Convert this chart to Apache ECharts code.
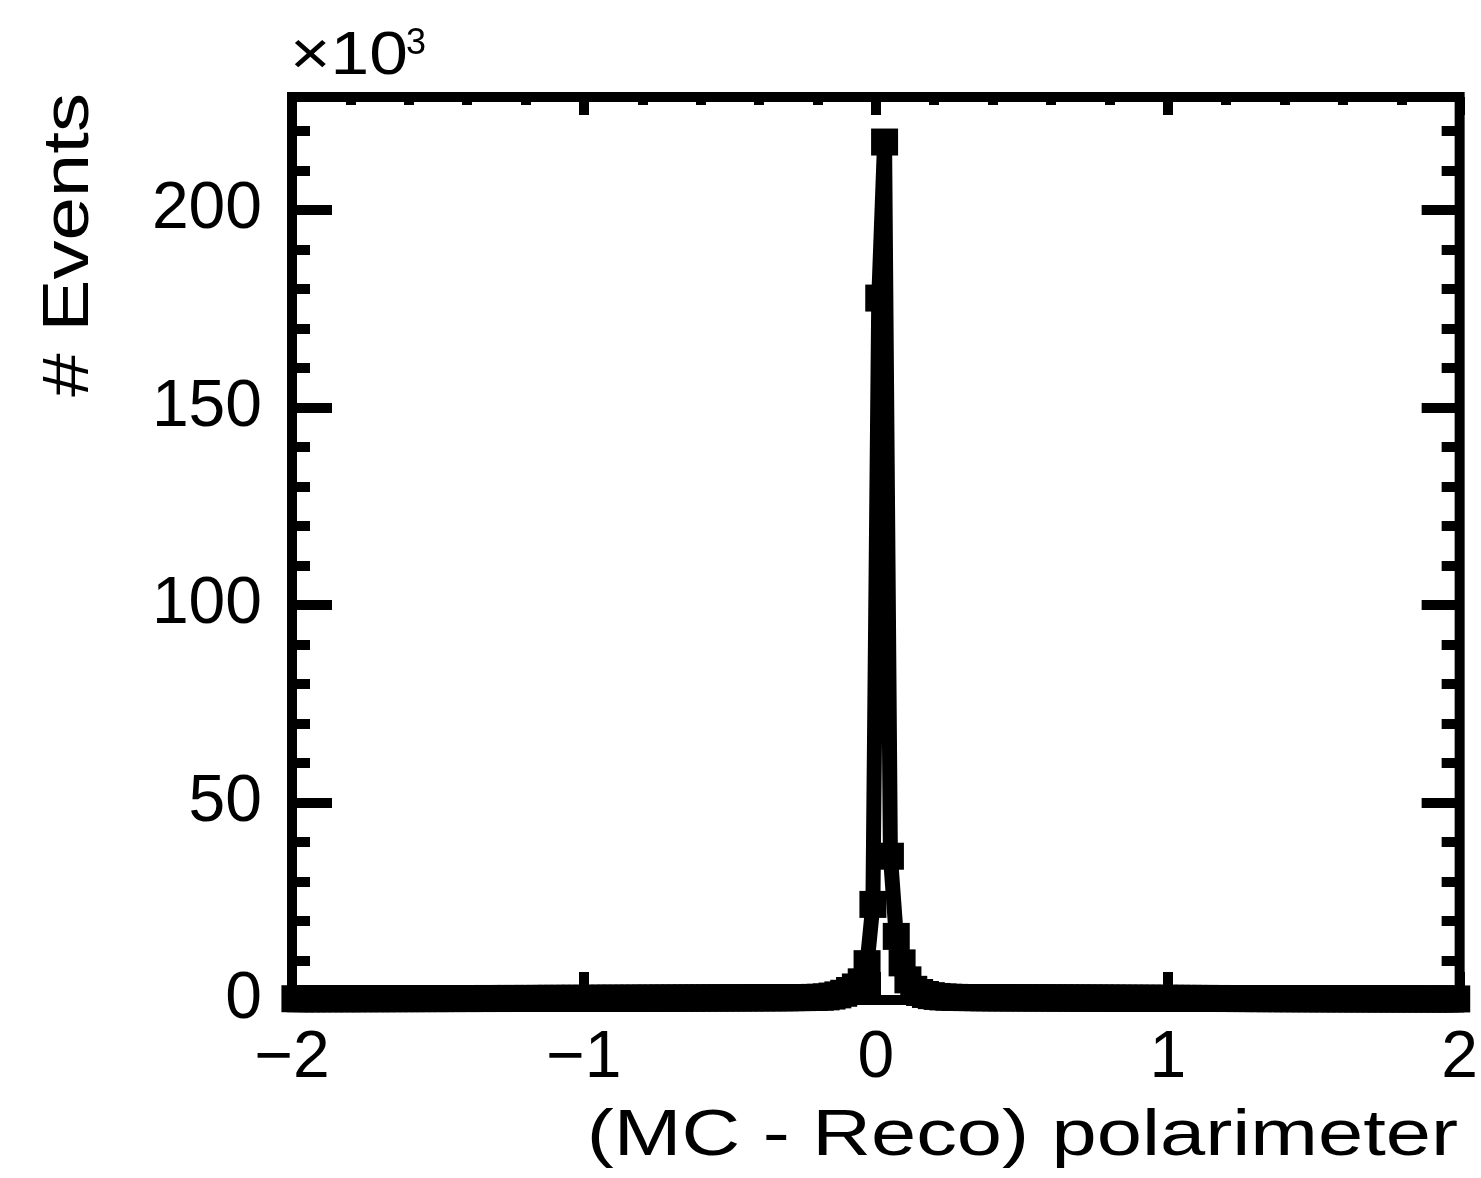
<!DOCTYPE html>
<html lang="en">
<head>
    <meta charset="utf-8">
    <title>(MC - Reco) polarimeter</title>
    <script src="https://cdn.jsdelivr.net/npm/echarts@6/dist/echarts.min.js"></script>
    <style>
        html, body { margin: 0; padding: 0; background: #fff; }
        #main { width: 1481px; height: 1178px; }
    </style>
</head>
<body>
<div id="main"></div>
<script type="text/javascript">
    // histogram binning: 200 bins on [-2, 2]
    var binLow = -2;
    var binWidth = 0.02;

    // counts (x10^3) per bin
    // bins -1.99 ... -0.21
    var leftTail = [
        0.32, 0.31, 0.33, 0.32, 0.31, 0.33, 0.32, 0.34, 0.33, 0.32,
        0.33, 0.34, 0.33, 0.35, 0.34, 0.33, 0.35, 0.34, 0.36, 0.35,
        0.34, 0.36, 0.35, 0.37, 0.36, 0.35, 0.37, 0.36, 0.38, 0.37,
        0.36, 0.38, 0.37, 0.39, 0.38, 0.37, 0.39, 0.40, 0.39, 0.38,
        0.40, 0.39, 0.41, 0.40, 0.42, 0.41, 0.40, 0.42, 0.43, 0.42,
        0.41, 0.43, 0.44, 0.43, 0.45, 0.44, 0.43, 0.45, 0.46, 0.45,
        0.46, 0.47, 0.46, 0.48, 0.47, 0.49, 0.48, 0.50, 0.49, 0.51,
        0.50, 0.52, 0.51, 0.53, 0.52, 0.54, 0.53, 0.55, 0.54, 0.56,
        0.55, 0.57, 0.56, 0.58, 0.57, 0.59, 0.60, 0.61, 0.63, 0.66
    ];
    // bins -0.19 ... 0.21
    var peakBins = [
        0.7, 0.8, 1.0, 1.3, 1.7, 2.4, 3.3, 4.6, 9.2, 24.2,
        177.7, 217.2, 36.4, 16.1, 9.4, 5.1, 2.7, 1.9, 1.4, 1.1,
        0.9
    ];
    // bins 0.23 ... 1.99
    var rightTail = [
        0.78, 0.70, 0.66, 0.63, 0.61, 0.60, 0.59, 0.57, 0.58, 0.56,
        0.55, 0.56, 0.54, 0.55, 0.53, 0.54, 0.52, 0.53, 0.51, 0.52,
        0.50, 0.51, 0.49, 0.50, 0.48, 0.49, 0.47, 0.48, 0.46, 0.47,
        0.45, 0.46, 0.44, 0.45, 0.43, 0.44, 0.43, 0.42, 0.43, 0.41,
        0.42, 0.40, 0.41, 0.40, 0.39, 0.40, 0.38, 0.39, 0.38, 0.37,
        0.38, 0.36, 0.37, 0.36, 0.35, 0.36, 0.34, 0.35, 0.34, 0.33,
        0.34, 0.33, 0.32, 0.33, 0.32, 0.31, 0.32, 0.31, 0.30, 0.31,
        0.30, 0.29, 0.30, 0.29, 0.30, 0.28, 0.29, 0.28, 0.29, 0.28,
        0.27, 0.28, 0.27, 0.28, 0.27, 0.26, 0.27, 0.26, 0.27
    ];

    var xTicks = [-2, -1, 0, 1, 2];
    var yTicks = [0, 50, 100, 150, 200];
    var xTitle = '(MC - Reco) polarimeter';
    var yTitle = '# Events';

    var counts = leftTail.concat(peakBins, rightTail);
    var histData = counts.map(function (v, i) {
        return [binLow + (i + 0.5) * binWidth, v];
    });

    var font = '"Liberation Sans", Helvetica, Arial, sans-serif';
    var black = '#000';

    function fmtX(v) {
        if (xTicks.indexOf(v) < 0) return '';
        return v < 0 ? '\u2212' + Math.abs(v) : String(v);
    }
    function fmtY(v) {
        return yTicks.indexOf(v) < 0 ? '' : String(v);
    }

    var tickStyle = {color: black, width: 10};

    var chart = echarts.init(document.getElementById('main'), null, {renderer: 'canvas'});
    var option = {
        animation: false,
        backgroundColor: '#fff',
        grid: {
            left: 292, right: 19, top: 97, bottom: 178,
            show: true, borderWidth: 10, borderColor: black, backgroundColor: 'transparent'
        },
        xAxis: [{
            type: 'value', min: -2, max: 2, interval: 1, position: 'bottom',
            axisLine: {show: false, onZero: false},
            splitLine: {show: false},
            axisTick: {inside: true, length: 28, lineStyle: tickStyle},
            minorTick: {show: true, splitNumber: 5, length: 10, lineStyle: tickStyle},
            axisLabel: {
                formatter: fmtX, color: black, fontFamily: font, fontSize: 66, margin: 26
            }
        }, {
            type: 'value', min: -2, max: 2, interval: 1, position: 'top',
            axisLine: {show: false, onZero: false},
            splitLine: {show: false},
            axisTick: {inside: true, length: 18, lineStyle: tickStyle},
            minorTick: {show: true, splitNumber: 5, length: 8, lineStyle: tickStyle},
            axisLabel: {show: false}
        }],
        yAxis: [{
            type: 'value', min: 0, max: 228.6, interval: 50, position: 'left',
            axisLine: {show: false, onZero: false},
            splitLine: {show: false},
            axisTick: {inside: true, length: 40, lineStyle: tickStyle},
            minorTick: {show: true, splitNumber: 5, length: 18, lineStyle: tickStyle},
            axisLabel: {
                formatter: fmtY, showMaxLabel: false, color: black,
                fontFamily: font, fontSize: 66, margin: 30
            }
        }, {
            type: 'value', min: 0, max: 228.6, interval: 50, position: 'right',
            axisLine: {show: false, onZero: false},
            splitLine: {show: false},
            axisTick: {inside: true, length: 38, lineStyle: tickStyle},
            minorTick: {show: true, splitNumber: 5, length: 18, lineStyle: tickStyle},
            axisLabel: {show: false}
        }],
        series: [{
            type: 'line',
            xAxisIndex: 0,
            yAxisIndex: 0,
            data: histData,
            symbol: 'rect',
            symbolSize: 27,
            showAllSymbol: true,
            clip: true,
            lineStyle: {color: black, width: 15},
            itemStyle: {color: black},
            z: 5
        }],
        graphic: [{
            type: 'text',
            x: 70, y: 93,
            rotation: Math.PI / 2,
            scaleX: 1.22,
            style: {
                text: yTitle, fill: black, font: '64px ' + font,
                textAlign: 'right', textVerticalAlign: 'middle'
            }
        }, {
            type: 'text',
            x: 1458, y: 1137,
            scaleX: 1.25,
            style: {
                text: xTitle, fill: black, font: '65px ' + font,
                textAlign: 'right', textVerticalAlign: 'middle'
            }
        }, {
            type: 'text',
            x: 290, y: 88,
            scaleX: 1.12,
            style: {
                text: '\u00d710', fill: black, font: '62px ' + font,
                textAlign: 'left', textVerticalAlign: 'bottom'
            }
        }, {
            type: 'text',
            x: 406, y: 62,
            style: {
                text: '3', fill: black, font: '36px ' + font,
                textAlign: 'left', textVerticalAlign: 'bottom'
            }
        }]
    };
    chart.setOption(option);
</script>
</body>
</html>
